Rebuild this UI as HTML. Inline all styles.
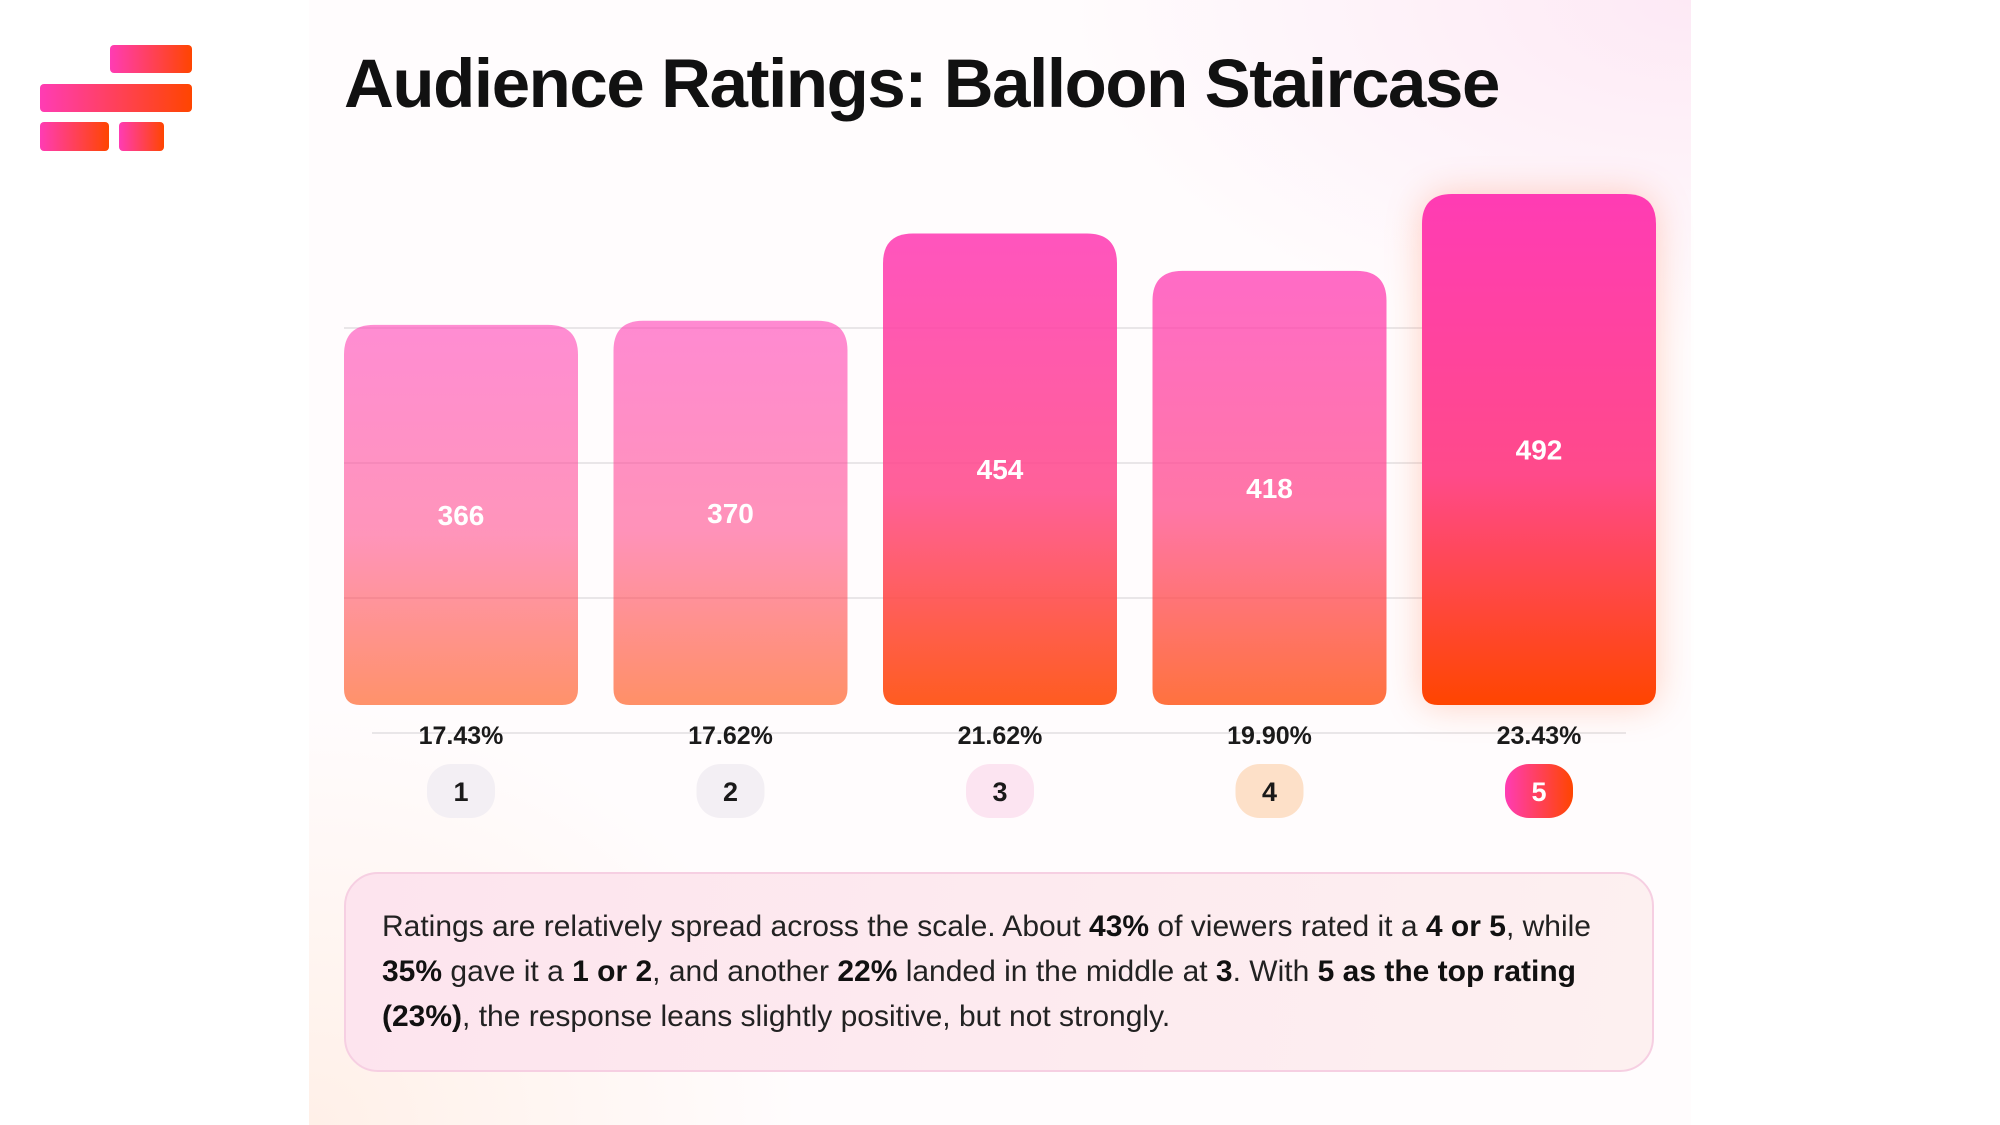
<!DOCTYPE html>
<html><head><meta charset="utf-8">
<style>
html,body{margin:0;padding:0;background:#fff;}
body{width:2000px;height:1125px;overflow:hidden;position:relative;font-family:"Liberation Sans",sans-serif;}
#panel{position:absolute;left:309px;top:0;width:1382px;height:1125px;
 background:radial-gradient(ellipse 900px 500px at 100% 0%,#fde9f5 0%,rgba(255,255,255,0) 70%),
 radial-gradient(ellipse 700px 600px at 0% 100%,#fff0e8 0%,rgba(255,255,255,0) 70%),#fffcfd;}
#title{position:absolute;left:344px;top:44px;margin:0;font-size:69px;font-weight:700;color:#111;letter-spacing:-1.4px;white-space:nowrap;}
#note{position:absolute;left:344px;top:872px;width:1310px;height:200px;box-sizing:border-box;border:2px solid #f6cfe2;border-radius:34px;
 background:linear-gradient(100deg,#fde4ee,#fdf0f0);padding:30px 36px;font-size:30px;line-height:45px;color:#222;}
#note b{font-weight:700;color:#111;}
svg{position:absolute;left:0;top:0;}
</style></head><body>
<div id="panel"></div>
<svg width="2000" height="1125">
 <defs>
  <linearGradient id="lg" x1="0" y1="0" x2="1" y2="0"><stop offset="0" stop-color="#ff3cb4"/><stop offset="1" stop-color="#ff4500"/></linearGradient>
  <linearGradient id="bg" x1="0" y1="0" x2="0" y2="1"><stop offset="0" stop-color="#ff3cb4"/><stop offset="0.55" stop-color="#ff4a8a"/><stop offset="1" stop-color="#ff4500"/></linearGradient>
  <filter id="glow" x="-30%" y="-20%" width="160%" height="140%"><feGaussianBlur stdDeviation="18"/></filter>
 </defs>
 <g>
  <rect x="110" y="45" width="82" height="28" rx="4" fill="url(#lg)"/>
  <rect x="40" y="84" width="152" height="28" rx="4" fill="url(#lg)"/>
  <rect x="40" y="122" width="69" height="29" rx="4" fill="url(#lg)"/>
  <rect x="119" y="122" width="45" height="29" rx="4" fill="url(#lg)"/>
 </g>
 <g id="grid"></g>
 <g id="bars"></g>
</svg>
<h1 id="title">Audience Ratings: Balloon Staircase</h1>
<div id="note">Ratings are relatively spread across the scale. About <b>43%</b> of viewers rated it a <b>4 or 5</b>, while <b>35%</b> gave it a <b>1 or 2</b>, and another <b>22%</b> landed in the middle at <b>3</b>. With <b>5 as the top rating (23%)</b>, the response leans slightly positive, but not strongly.</div>
<script>
const categories=["1","2","3","4","5"];
const counts=[366,370,454,418,492];
const percents=["17.43%","17.62%","21.62%","19.90%","23.43%"];
const badgeFills=["#f3eff4","#f3eff4","#fce4f1","#fde0c8","url(#lg)"];
const NS="http://www.w3.org/2000/svg";
const baseY=705, pxPer=1.0386, x0=344, pitch=269.5, bw=234;
const yScale=v=>baseY-v*pxPer;
const xScale=i=>x0+i*pitch;
function mk(t,a,p){const e=document.createElementNS(NS,t);for(const k in a)e.setAttribute(k,a[k]);p.appendChild(e);return e;}
const grid=document.getElementById('grid');
[[328,344,1656],[463,344,1656],[598,344,1656],[733,372,1626]].forEach(r=>{
 const l=mk('line',{x1:r[1],x2:r[2],y1:r[0],y2:r[0],stroke:'#e9e6e8','stroke-width':2},grid);
 
 
});
const g=document.getElementById('bars');
const vmin=Math.min(...counts), vmax=Math.max(...counts);
counts.forEach((v,i)=>{
 const x=xScale(i), y=yScale(v), h=baseY-y, rt=30, rb=16;
 const d=`M${x},${y+rt} Q${x},${y} ${x+rt},${y} L${x+bw-rt},${y} Q${x+bw},${y} ${x+bw},${y+rt} L${x+bw},${baseY-rb} Q${x+bw},${baseY} ${x+bw-rb},${baseY} L${x+rb},${baseY} Q${x},${baseY} ${x},${baseY-rb} Z`;
 const t=(v-vmin)/(vmax-vmin);
 if(v===vmax){const s=mk('path',{d:d,fill:'#ff7a50',opacity:0.35,filter:'url(#glow)'},g);
  
  }
 const b=mk('path',{d:d,fill:'url(#bg)',opacity:(0.58+0.42*t).toFixed(3)},g);
 
 
 const vl=mk('text',{x:x+bw/2,y:y+h/2+10,'text-anchor':'middle','font-size':28,'font-weight':700,fill:'#fff'},g);
 vl.textContent=v;
 
 
 const pl=mk('text',{x:x+bw/2,y:744,'text-anchor':'middle','font-size':25,'font-weight':700,fill:'#1a1a1a'},g);
 pl.textContent=percents[i];
 
 
 const br=mk('rect',{x:x+bw/2-34,y:764,width:68,height:54,rx:24,fill:badgeFills[i]},g);
 
 
 const bt=mk('text',{x:x+bw/2,y:801,'text-anchor':'middle','font-size':27,'font-weight':700,fill:i===4?'#fff':'#1a1a1a'},g);
 bt.textContent=categories[i];
 
 
});
</script>
</body></html>
